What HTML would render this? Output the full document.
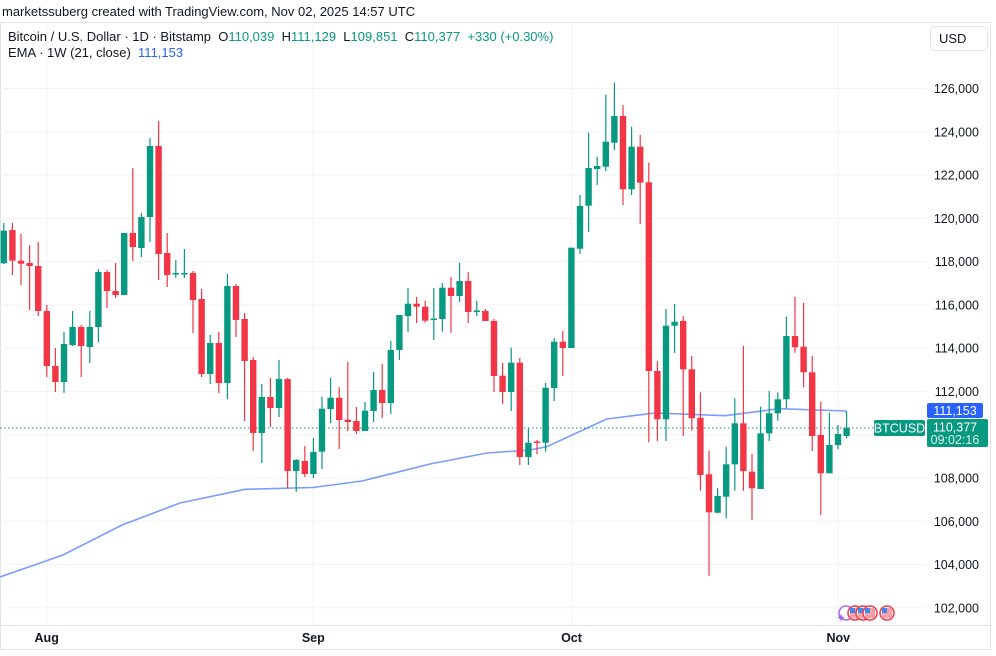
<!DOCTYPE html>
<html><head><meta charset="utf-8">
<style>
html,body{margin:0;padding:0;background:#fff;}
body{width:996px;height:656px;overflow:hidden;position:relative;font-family:"Liberation Sans",sans-serif;color:#131722;}
.t{position:absolute;white-space:nowrap;font-size:13px;}
</style></head><body>
<div class="t" style="left:2px;top:4px;">marketssuberg created with TradingView.com, Nov 02, 2025 14:57 UTC</div>
<svg id="c" width="996" height="656" style="position:absolute;left:0;top:0" xmlns="http://www.w3.org/2000/svg"></svg>
<div class="t" style="left:8px;top:29px;">Bitcoin / U.S. Dollar · 1D · Bitstamp &nbsp;O<span style="color:#089981">110,039</span> &nbsp;H<span style="color:#089981">111,129</span> &nbsp;L<span style="color:#089981">109,851</span> &nbsp;C<span style="color:#089981">110,377</span> &nbsp;<span style="color:#089981">+330 (+0.30%)</span></div>
<div class="t" style="left:8px;top:45px;">EMA · 1W (21, close) &nbsp;<span style="color:#2962ff">111,153</span></div>
<div style="position:absolute;left:930px;top:26px;width:56px;height:23px;border:1px solid #e0e3eb;border-radius:5px;background:#fff;font-size:13px;line-height:23px;text-indent:8px;">USD</div>
<script>
var d=[
['g',230.7,263.3,223,264],['r',230,260.7,222.7,275],['r',260.7,263.7,234,285],['r',263,266,245,310],['r',266,311,242,316],
['r',311,366,305,377],['r',366,382,348,392],['g',344,382,332,393],['g',327,345,311,346],['r',327,346,325,377],
['g',327,347,311,363],['g',272,327,269,342],['r',272,291,270,308],['r',291,295,263,298],['g',233,295,233,295],
['r',233,247,168,261],['g',217,248,213,257],['g',146,217,138,242],['r',146,254,121,280],['r',253,275,233,287],
['g',273,274.5,260,278],['g',273,274.5,249,278],['r',273,300,271,333],['r',299,374,289,377],['g',343,374,335,384],
['r',343,383,332,393],['g',286,383,274,399],['r',286,320,284,337],['r',319,361,313,421],['r',360,433,357,451],
['g',397,433,384,463],['r',397,408,378,427],['g',379,408,360,417],['r',379,471,378,488],['g',460,471,459,492],
['r',461,474,446,477],['g',452,474,438,478],['g',408.7,451.7,396.7,469],['g',397.7,409,378,423],['r',397.7,420,387,449],
['r',419.7,422,362,431],['r',421,431,407,434],['g',410.7,431,402,431],['g',390,411,372,422],['r',390,403,364,418],
['g',350,403,341,414],['g',315,350,315,360],['g',303.7,316,288,332],['r',303.7,306.7,297,323],['r',306.7,320.7,300.7,322.7],
['g',318.5,320,288,340],['g',287.7,319,283,331.7],['r',287.7,296,277,332.7],['g',281,296,262.7,302],['r',281,312,272,323],
['g',310.5,312,300.7,316],['r',311,321,309,321],['r',321,376,319,392],['r',375.7,392,362.7,404],['g',362.7,392,347.7,411],
['r',362.7,457,358,465],['g',442.7,457,427.7,465],['r',441.5,443,440,454],['g',387.7,442.7,383,451.7],['g',341.7,388,337.7,401],
['r',341.7,348,331,376],['g',247.7,348,247.7,348],['g',206,248.7,195,254],['g',168,205.7,132.7,232],['g',166,169,156.7,185],
['g',141.7,166.7,94.7,171],['g',116,142.7,82.7,150],['r',116,189.3,105,205],['g',146.7,189.3,126.7,195],['r',146.7,182.7,135,224],
['r',182.3,371,162.7,442.3],['r',371,419.3,361,441],['g',325.7,419.3,309,441],['g',321.7,325.7,304,353],['r',321,369.3,316,436],
['r',369.3,418.3,356,430.7],['r',417.7,475,392.3,490.7],['r',474.3,512.3,450.7,575.7],['g',496,512.7,488.3,513.3],['g',464.3,496.7,446.7,518.3],
['g',423.3,464.3,398.3,490.7],['r',423.3,471,346,490.7],['r',471.7,488.3,454,520],['g',433.3,489,406.7,489],['g',413.3,433.3,391,441],
['g',399.3,413.3,392.3,420.7],['g',336,399.3,316.7,408.3],['r',336,347.3,296.7,352.7],['r',346.7,372.3,302.7,387.3],['r',372.3,436,356,451],
['r',435,473.3,401.7,515],['g',445,473.3,412.7,473.3],['g',434,445,425,449.3],['g',427.7,436,411.7,438.3]
];
var s='';
s+='<rect x="0.5" y="22.5" width="990" height="627" fill="none" stroke="#e0e3eb"/>';
s+='<line x1="0" y1="625.5" x2="990" y2="625.5" stroke="#e0e3eb"/>';
for(var i=0;i<13;i++){var p=126000-i*2000;var y=88.5+i*43.28;
s+='<line x1="0" y1="'+y+'" x2="926" y2="'+y+'" stroke="#f2f3f5"/>';
s+='<text x="979" y="'+(y+4.5)+'" text-anchor="end" font-size="12.5" fill="#131722" font-family="Liberation Sans,sans-serif">'+(p/1000)+',000</text>';}
[[46.7,'Aug'],[313.3,'Sep'],[571.5,'Oct'],[838.3,'Nov']].forEach(function(v){
s+='<line x1="'+v[0]+'" y1="22" x2="'+v[0]+'" y2="625" stroke="#f2f3f5"/>';
s+='<text x="'+v[0]+'" y="642" text-anchor="middle" font-size="12.5" font-weight="bold" fill="#131722" font-family="Liberation Sans,sans-serif">'+v[1]+'</text>';});
s+='<polyline fill="none" stroke="#7b9cff" stroke-width="1.6" points="0,577 63,555 122,525 180,503 245,489.3 313,487.5 362,481 430,464 487,453 530,450 546.7,446.7 606.7,419 655,413 725,415.7 779,408.7 846,411 846,413"/>';
s+='<line x1="0" y1="428" x2="874" y2="428" stroke="#089981" stroke-dasharray="1.5,2.5"/>';
d.forEach(function(c,i){var x=3.8+8.6*i;var col=c[0]=='g'?'#089981':'#f23645';
s+='<line x1="'+x+'" y1="'+c[3]+'" x2="'+x+'" y2="'+c[4]+'" stroke="'+col+'" stroke-width="1.2"/>';
var h=Math.max(c[2]-c[1],1.5);
s+='<rect x="'+(x-3.2)+'" y="'+c[1]+'" width="6.4" height="'+h+'" fill="'+col+'"/>';});
[[846,'#a66cf0'],[855,'#f23645'],[863,'#f23645'],[870,'#f23645'],[887,'#f23645']].forEach(function(f,i){
s+='<circle cx="'+f[0]+'" cy="613" r="7" fill="#fff" stroke="'+f[1]+'" stroke-width="1.5"/>';
if(i>0){s+='<rect x="'+(f[0]-5)+'" y="608" width="10" height="10" fill="#f7a0a8"/><rect x="'+(f[0]-5)+'" y="608" width="5" height="5" fill="#3d8bf0"/>';}});
s+='<text x="836" y="622" font-size="12" fill="#a66cf0">✦</text>';
s+='<rect x="927" y="403" width="56" height="15" rx="2" fill="#2962ff"/><text x="955" y="415" text-anchor="middle" font-size="12.5" fill="#fff" font-family="Liberation Sans,sans-serif">111,153</text>';
s+='<rect x="874" y="420" width="51" height="16" rx="2" fill="#089981"/><text x="899.5" y="432.5" text-anchor="middle" font-size="12.5" fill="#fff" font-family="Liberation Sans,sans-serif">BTCUSD</text>';
s+='<rect x="927" y="419" width="61" height="28" rx="2" fill="#089981"/><text x="955" y="431.5" text-anchor="middle" font-size="12.5" fill="#fff" font-family="Liberation Sans,sans-serif">110,377</text><text x="955" y="444" text-anchor="middle" font-size="12.5" fill="#d8f0ea" font-family="Liberation Sans,sans-serif">09:02:16</text>';
document.getElementById('c').innerHTML=s;
</script>
</body></html>
